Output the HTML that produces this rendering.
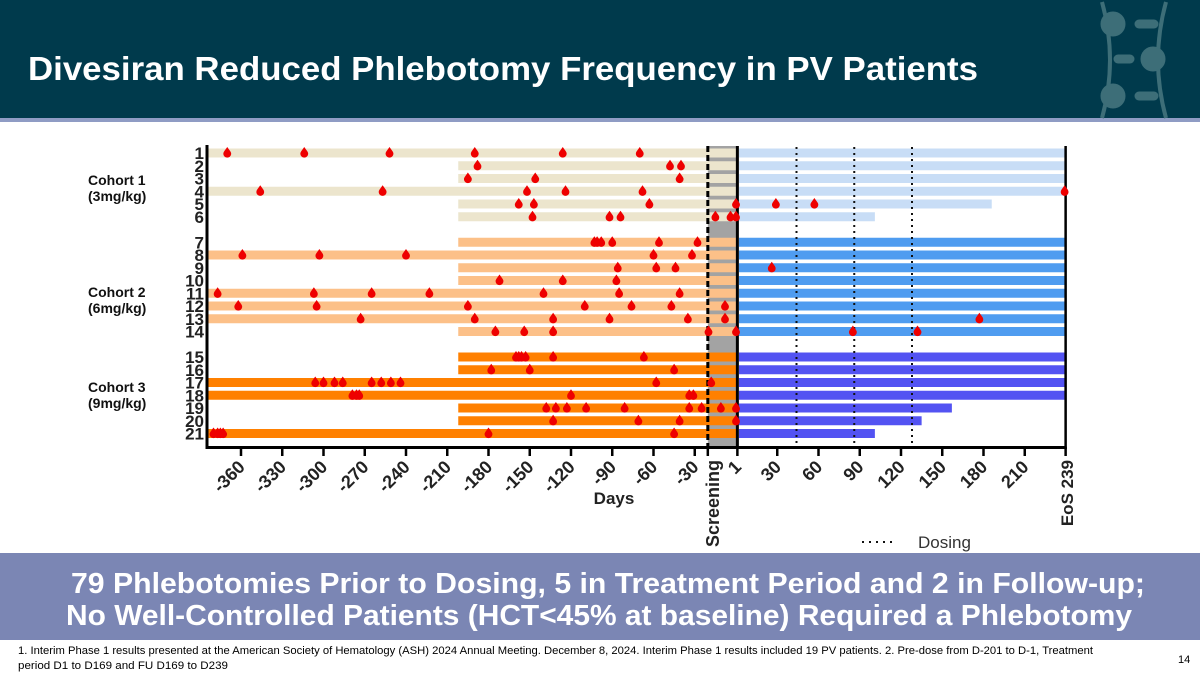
<!DOCTYPE html>
<html><head><meta charset="utf-8"><style>
html,body{margin:0;padding:0;background:#fff;}
svg{display:block;font-family:"Liberation Sans",sans-serif;}
</style></head><body>
<svg id="s" width="1200" height="675" viewBox="0 0 1200 675" xmlns="http://www.w3.org/2000/svg">
<rect x="0" y="0" width="1200" height="118" fill="#003a4c"/>
<rect x="0" y="118" width="1200" height="4" fill="#8f9cc4"/>
<g fill="#3d6e78" stroke="#3d6e78">
<path d="M1102,2 Q1118,60 1102,118" fill="none" stroke-width="4"/>
<path d="M1166,2 Q1150,60 1166,118" fill="none" stroke-width="4"/>
<circle cx="1113" cy="24" r="12"/><circle cx="1153" cy="59" r="12"/><circle cx="1113" cy="96" r="12"/>
<line x1="1139" y1="24" x2="1154" y2="24" stroke-width="9" stroke-linecap="round"/>
<line x1="1118" y1="59" x2="1130" y2="59" stroke-width="9" stroke-linecap="round"/>
<line x1="1139" y1="96" x2="1154" y2="96" stroke-width="9" stroke-linecap="round"/>
</g>
<text x="28" y="80" font-size="33" font-weight="bold" fill="#fff" textLength="950" lengthAdjust="spacingAndGlyphs">Divesiran Reduced Phlebotomy Frequency in PV Patients</text>
<g id="chart"></g>
<rect x="0" y="553" width="1200" height="87" fill="#7b86b4"/>
<text x="71" y="593" font-size="29" font-weight="bold" fill="#fff" textLength="1074" lengthAdjust="spacingAndGlyphs">79 Phlebotomies Prior to Dosing, 5 in Treatment Period and 2 in Follow-up;</text>
<text x="66" y="625" font-size="29" font-weight="bold" fill="#fff" textLength="1066" lengthAdjust="spacingAndGlyphs">No Well-Controlled Patients (HCT&lt;45% at baseline) Required a Phlebotomy</text>
<text x="18" y="654" font-size="11" fill="#000" textLength="1075" lengthAdjust="spacingAndGlyphs">1. Interim Phase 1 results presented at the American Society of Hematology (ASH) 2024 Annual Meeting. December 8, 2024. Interim Phase 1 results included 19 PV patients. 2. Pre-dose from D-201 to D-1, Treatment</text>
<text x="18" y="669" font-size="11" fill="#000" textLength="210" lengthAdjust="spacingAndGlyphs">period D1 to D169 and FU D169 to D239</text>
<text x="1178" y="663" font-size="11" fill="#000">14</text>
</svg>
<script>
const patients=[1,2,3,4,5,6,7,8,9,10,11,12,13,14,15,16,17,18,19,20,21];
const cohortOf=[1,1,1,1,1,1,2,2,2,2,2,2,2,2,3,3,3,3,3,3,3];
const preStart=[-384,-202,-202,-384,-202,-202,-202,-384,-202,-202,-384,-384,-384,-202,-202,-202,-384,-384,-202,-202,-384];
const postEnd=[239,239,239,239,186,101,239,239,239,239,239,239,239,239,239,239,239,239,157,135,101];
const phlebotomies=[
[-370,-314,-252,-190,-126,-70],
[-188,-48,-40],
[-195,-146,-41],
[-346,-257,-152,-124,-68,239],
[-158,-147,-63,0,29,57],
[-148,-92,-84,-15,-4,0],
[-103,-101,-98,-90,-56,-28],
[-359,-303,-240,-60,-32],
[-86,-58,-44,26],
[-172,-126,-87],
[-377,-307,-265,-223,-140,-85,-41],
[-362,-305,-195,-110,-76,-47,-8],
[-273,-190,-133,-92,-35,-8,177],
[-175,-154,-133,-20,0,85,132],
[-160,-158,-156,-153,-133,-67],
[-178,-150,-45],
[-306,-300,-292,-286,-265,-258,-251,-244,-58,-18],
[-279,-276,-274,-120,-34,-31],
[-138,-131,-123,-109,-81,-34,-25,-11,0],
[-133,-71,-41,0],
[-380,-377,-375,-373,-180,-45]
];
const dosingDays=[44,86,128];
const negTicks=[-360,-330,-300,-270,-240,-210,-180,-150,-120,-90,-60,-30];
const posTicks=[1,30,60,90,120,150,180,210];
const cohortLabels=["Cohort 1","Cohort 2","Cohort 3"];
const cohortDoses=["(3mg/kg)","(6mg/kg)","(9mg/kg)"];

const NS="http://www.w3.org/2000/svg";
const g=document.getElementById('chart');
function X(d){return 736+d*1.375;}
function Y(i){const c=cohortOf[i];return 153+i*12.75+(c-1)*12.75;}
function el(t,a,p){const e=document.createElementNS(NS,t);for(const k in a)e.setAttribute(k,a[k]);(p||g).appendChild(e);return e;}
const preCol={1:"#ece5cd",2:"#fcc088",3:"#ff8000"};
const postCol={1:"#c8ddf6",2:"#4f9cf0",3:"#5353f2"};

let sc=el('rect',{x:X(-20.5),y:146,width:X(0)-X(-20.5),height:301,fill:"#a3a3a3"});



patients.forEach((p,i)=>{
  const y=Y(i),c=cohortOf[i];
  const b=el('rect',{x:X(preStart[i]),y:y-4.5,width:X(0)-X(preStart[i]),height:9,fill:preCol[c]});
  
  
  const b2=el('rect',{x:X(0)+3,y:y-4.5,width:X(postEnd[i])-X(0)-3,height:9,fill:postCol[c]});
  
  
  const t=el('text',{x:204,y:y+6,'text-anchor':'end','font-size':17,'font-weight':'bold',fill:'#222'});
  t.textContent=p;
  
  
});

dosingDays.forEach(d=>{
  const l=el('line',{x1:X(d),x2:X(d),y1:147,y2:447,stroke:'#111','stroke-width':2,'stroke-dasharray':'2 4'});
  
  
});
let sl=el('line',{x1:X(-20.5),x2:X(-20.5),y1:146,y2:447,stroke:'#000','stroke-width':3,'stroke-dasharray':'6 3'});


let d1=el('line',{x1:X(1),x2:X(1),y1:146,y2:449,stroke:'#000','stroke-width':3});


let eos=el('line',{x1:X(239)+1,x2:X(239)+1,y1:146,y2:449,stroke:'#000','stroke-width':2.5});



phlebotomies.forEach((arr,i)=>{
  const y=Y(i);
  arr.forEach(d=>{
    const x=X(d);
    const m=el('path',{d:`M${x},${y-6} L${x+3.2},${y-1.5} A3.9,3.9 0 1 1 ${x-3.2},${y-1.5} Z`,fill:'#ee0000'});
    
    
  });
});

let ya=el('line',{x1:207,x2:207,y1:145,y2:449,stroke:'#000','stroke-width':3});


let xa=el('line',{x1:206,x2:X(239)+2,y1:447.5,y2:447.5,stroke:'#000','stroke-width':3});


function tick(x,label,name){
  const t=el('line',{x1:x,x2:x,y1:447,y2:456,stroke:'#000','stroke-width':2.5});
  
  
  if(label!==null){
    const tx=el('text',{x:x+5,y:468,'text-anchor':'end','font-size':18,'font-weight':'bold',fill:'#222',transform:`rotate(-45 ${x+5} 468)`});
    tx.textContent=label;
    
    
  }
}
negTicks.forEach(d=>tick(X(d),String(d),'x-tick-label'));
posTicks.forEach(d=>tick(X(d),String(d),'x-tick-label'));
tick(X(-20.5),null);
tick(X(239)+1,null);
let scr=el('text',{x:719,y:460,'text-anchor':'end','font-size':18,'font-weight':'bold',fill:'#222',transform:'rotate(-90 719 460)'});
scr.textContent='Screening';


let eosl=el('text',{x:1073,y:460,'text-anchor':'end','font-size':17,'font-weight':'bold',fill:'#222',transform:'rotate(-90 1073 460)'});
eosl.textContent='EoS 239';


let xt=el('text',{x:614,y:504,'text-anchor':'middle','font-size':17,'font-weight':'bold',fill:'#222'});
xt.textContent='Days';



[185,297,392].forEach((y,k)=>{
  const a=el('text',{x:88,y:y,'font-size':14,'font-weight':'bold',fill:'#111'});
  a.textContent=cohortLabels[k];
  
  
  const b=el('text',{x:88,y:y+16,'font-size':14,'font-weight':'bold',fill:'#111'});
  b.textContent=cohortDoses[k];
  
  
});

let lg=el('line',{x1:862,x2:892,y1:542,y2:542,stroke:'#111','stroke-width':2,'stroke-dasharray':'2 5'});


let lt=el('text',{x:918,y:548,'font-size':17,fill:'#333'});
lt.textContent='Dosing';


</script>
</body></html>
